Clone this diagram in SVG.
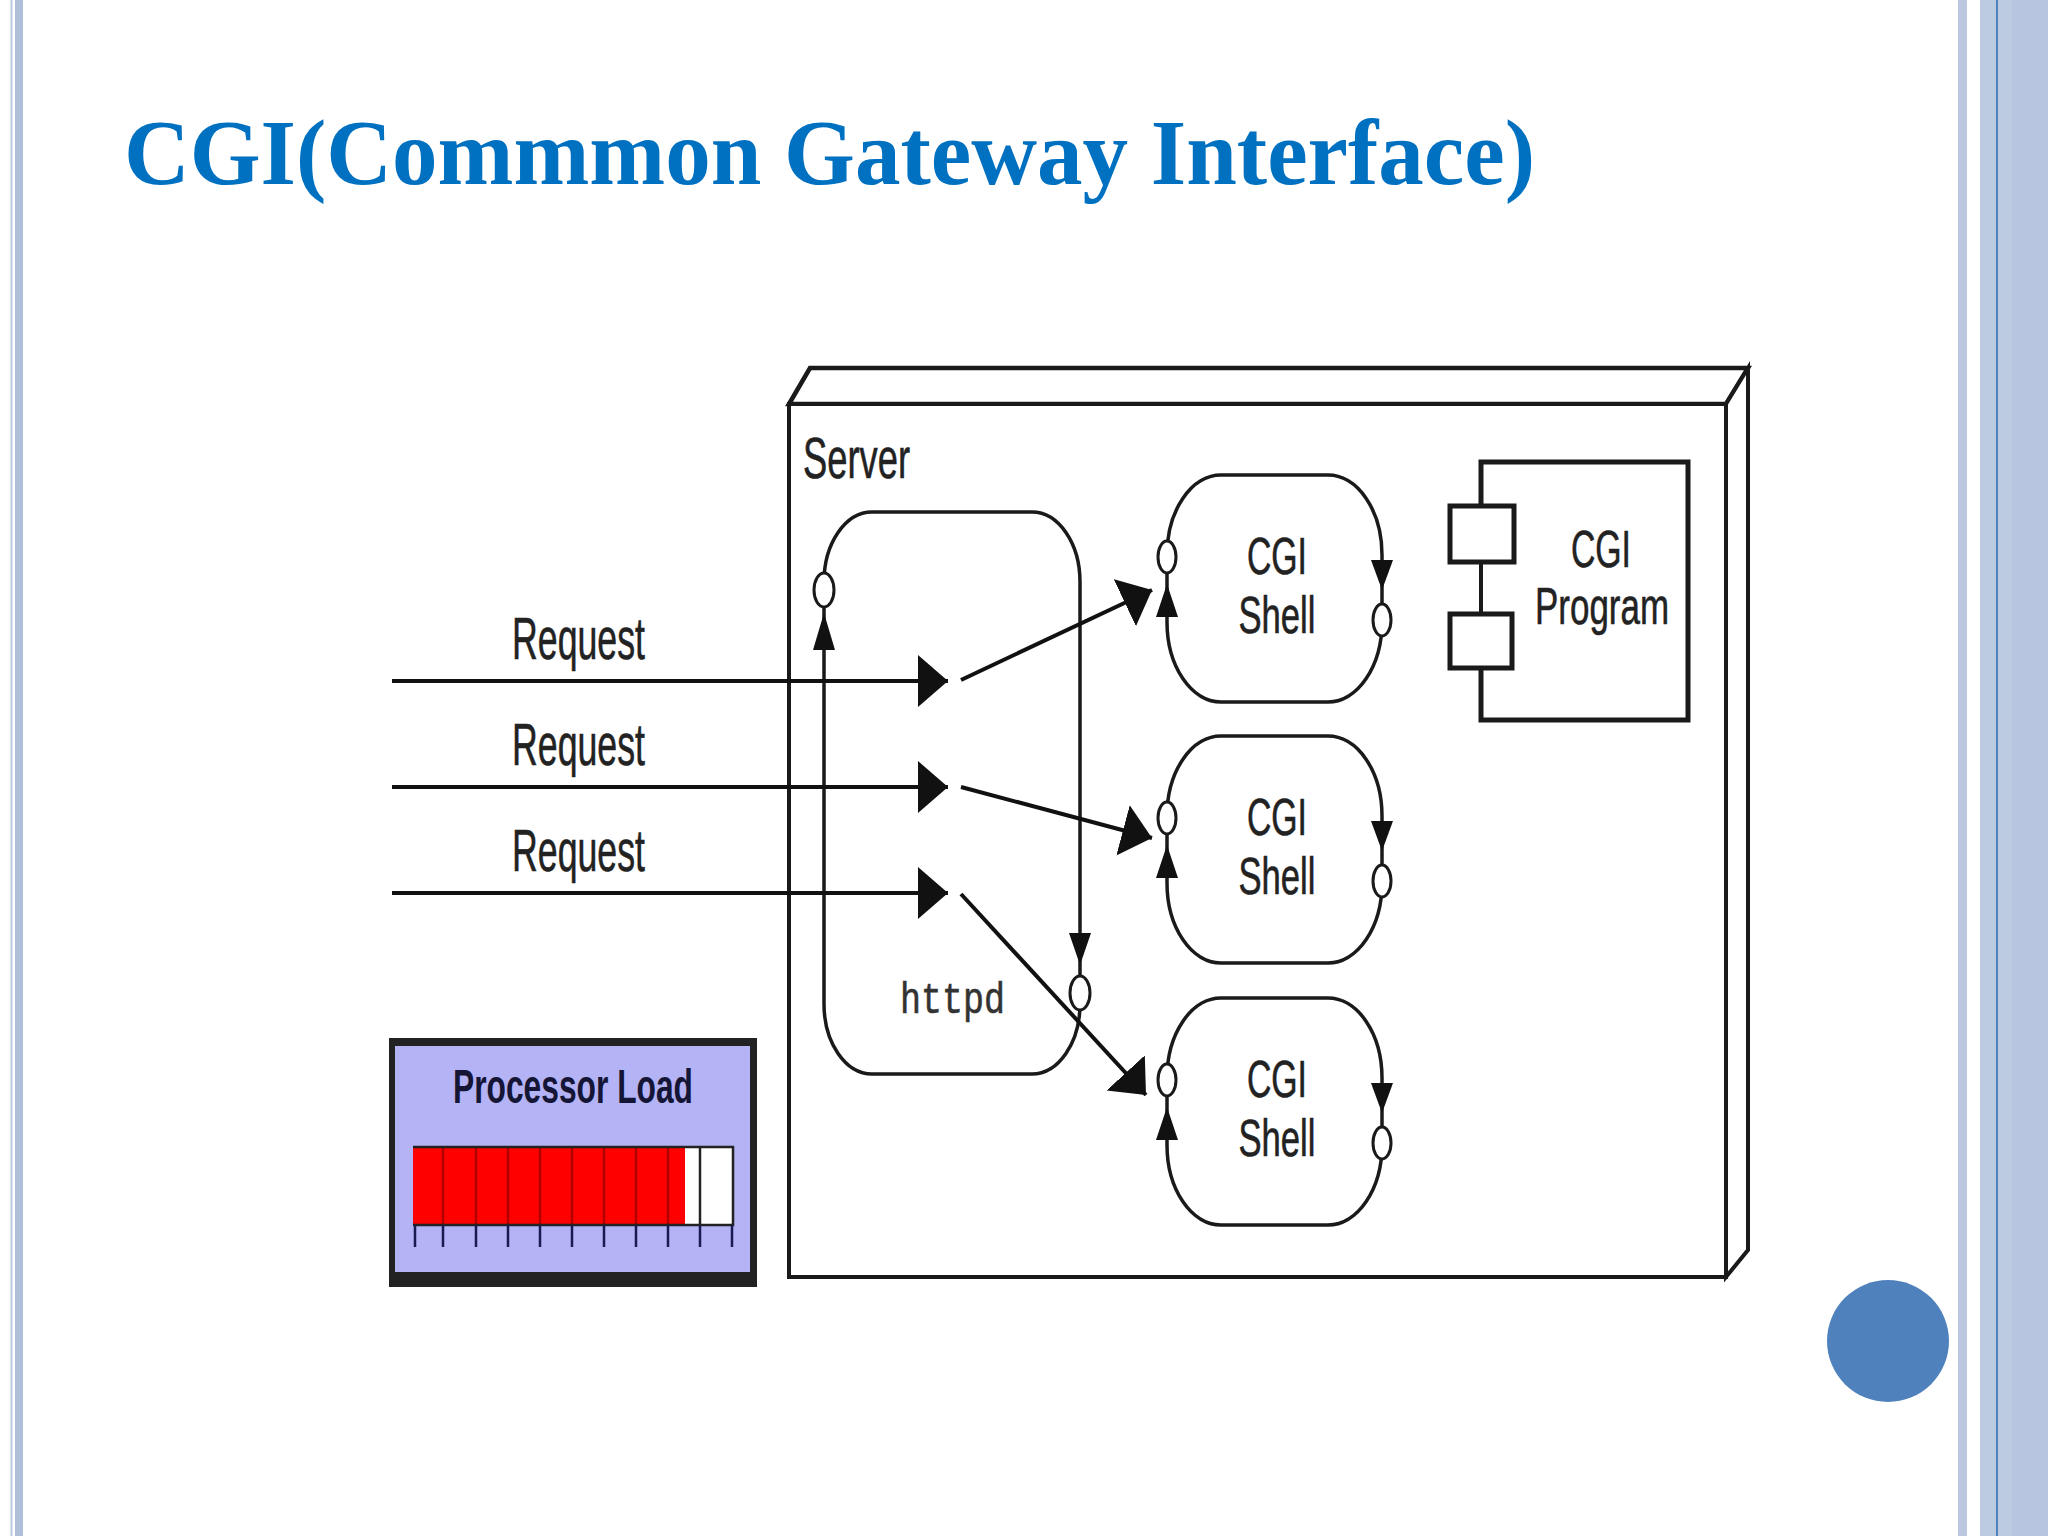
<svg xmlns="http://www.w3.org/2000/svg" width="2048" height="1536" viewBox="0 0 2048 1536">
<defs>
<style>
.lbl{font-family:"Liberation Sans",Arial,sans-serif;fill:#222;stroke:#222;stroke-width:0.6;}
.shape{fill:none;stroke:#1a1a1a;stroke-width:3.5;}
.port{fill:#fff;stroke:#1a1a1a;stroke-width:3;}
.tri{fill:#111;}
.conn{stroke:#111;stroke-width:4;fill:none;}
.tick{stroke:#1a1a50;stroke-width:2.5;}
.seg{stroke:#b00000;stroke-width:2.5;}
</style>
<marker id="big" markerUnits="userSpaceOnUse" markerWidth="32" markerHeight="54" refX="30" refY="26" orient="auto">
<path d="M0,0 L30,26 L0,52 Z" fill="#111"/>
</marker>
</defs>
<rect x="0" y="0" width="2048" height="1536" fill="#fff"/>
<!-- slide borders -->
<rect x="10.5" y="0" width="2" height="1536" fill="#B8C8E0"/>
<rect x="15" y="0" width="8" height="1536" fill="#AFBFD9"/>
<rect x="1958" y="0" width="9" height="1536" fill="#BCC8DF"/>
<rect x="1980" y="0" width="68" height="1536" fill="#BCCBDF"/>
<rect x="1996" y="0" width="2" height="1536" fill="#4F81BD"/>
<rect x="2012" y="0" width="36" height="1536" fill="#B7C5E0"/>
<circle cx="1888" cy="1341" r="61" fill="#4F81BD"/>
<text x="124" y="184" font-family="'Liberation Serif','Times New Roman',serif" font-weight="bold" font-size="94" fill="#0070C0" textLength="1411" lengthAdjust="spacingAndGlyphs">CGI(Commmon Gateway Interface)</text>

<g id="server">
<polygon points="789,404 810,368 1748,368 1726,404" fill="#fff" stroke="#1a1a1a" stroke-width="4.5" stroke-linejoin="miter"/>
<polygon points="1726,404 1748,368 1748,1250 1726,1277" fill="#fff" stroke="#1a1a1a" stroke-width="4"/>
<rect x="789" y="404" width="937" height="873" fill="#fff" stroke="#1a1a1a" stroke-width="4"/>
<text class="lbl" x="803" y="478" font-size="58" textLength="107" lengthAdjust="spacingAndGlyphs">Server</text>
</g>

<g id="httpd">
<rect class="shape" x="824" y="512" width="256" height="562" rx="48" ry="70"/>
<text x="900" y="1013" font-family="'Liberation Mono','Courier New',monospace" font-size="44" fill="#333" stroke="#333" stroke-width="0.6" textLength="105" lengthAdjust="spacingAndGlyphs">httpd</text>
<ellipse class="port" cx="824" cy="590" rx="10" ry="17"/>
<polygon class="tri" points="824,613 813,650 835,650"/>
<polygon class="tri" points="1069,933 1091,933 1080,965"/>
<ellipse class="port" cx="1080" cy="993" rx="10" ry="17"/>
</g>

<g id="shell1">
<rect class="shape" x="1167" y="475" width="215" height="227" rx="54" ry="80"/>
<ellipse class="port" cx="1167" cy="557" rx="9" ry="16"/>
<polygon class="tri" points="1167,584 1156,617 1178,617"/>
<polygon class="tri" points="1371,560 1393,560 1382,590"/>
<ellipse class="port" cx="1382" cy="620" rx="9" ry="16"/>
<text class="lbl" x="1277" y="574" font-size="52" text-anchor="middle" textLength="60" lengthAdjust="spacingAndGlyphs">CGI</text>
<text class="lbl" x="1277" y="633" font-size="52" text-anchor="middle" textLength="77" lengthAdjust="spacingAndGlyphs">Shell</text>
</g>

<g id="shell2">
<rect class="shape" x="1167" y="736" width="215" height="227" rx="54" ry="80"/>
<ellipse class="port" cx="1167" cy="818" rx="9" ry="16"/>
<polygon class="tri" points="1167,845 1156,878 1178,878"/>
<polygon class="tri" points="1371,821 1393,821 1382,851"/>
<ellipse class="port" cx="1382" cy="881" rx="9" ry="16"/>
<text class="lbl" x="1277" y="835" font-size="52" text-anchor="middle" textLength="60" lengthAdjust="spacingAndGlyphs">CGI</text>
<text class="lbl" x="1277" y="894" font-size="52" text-anchor="middle" textLength="77" lengthAdjust="spacingAndGlyphs">Shell</text>
</g>

<g id="shell3">
<rect class="shape" x="1167" y="998" width="215" height="227" rx="54" ry="80"/>
<ellipse class="port" cx="1167" cy="1080" rx="9" ry="16"/>
<polygon class="tri" points="1167,1107 1156,1140 1178,1140"/>
<polygon class="tri" points="1371,1083 1393,1083 1382,1113"/>
<ellipse class="port" cx="1382" cy="1143" rx="9" ry="16"/>
<text class="lbl" x="1277" y="1097" font-size="52" text-anchor="middle" textLength="60" lengthAdjust="spacingAndGlyphs">CGI</text>
<text class="lbl" x="1277" y="1156" font-size="52" text-anchor="middle" textLength="77" lengthAdjust="spacingAndGlyphs">Shell</text>
</g>

<g id="cgiprogram">
<polyline points="1481,505 1481,462 1688,462 1688,720 1481,720 1481,668" fill="none" stroke="#1a1a1a" stroke-width="5"/>
<line x1="1481" y1="562" x2="1481" y2="613" stroke="#1a1a1a" stroke-width="4"/>
<rect x="1450" y="506" width="64" height="56" fill="#fff" stroke="#1a1a1a" stroke-width="5"/>
<rect x="1450" y="614" width="62" height="54" fill="#fff" stroke="#1a1a1a" stroke-width="5"/>
<text class="lbl" x="1601" y="567" font-size="52" text-anchor="middle" textLength="60" lengthAdjust="spacingAndGlyphs">CGI</text>
<text class="lbl" x="1602" y="624" font-size="52" text-anchor="middle" textLength="134" lengthAdjust="spacingAndGlyphs">Program</text>
</g>

<g id="processorload">
<rect x="389" y="1038" width="368" height="249" fill="#222"/>
<rect x="395" y="1046" width="355" height="226" fill="#B3B3F5"/>
<text x="573" y="1103" font-family="'Liberation Sans',Arial,sans-serif" font-weight="bold" font-size="48" fill="#151535" text-anchor="middle" textLength="240" lengthAdjust="spacingAndGlyphs">Processor Load</text>
<rect x="413" y="1147" width="272" height="78" fill="#FF0000"/>
<rect x="685" y="1147" width="48" height="78" fill="#fff"/>
<g class="seg">
<line x1="443" y1="1148" x2="443" y2="1224"/><line x1="476" y1="1148" x2="476" y2="1224"/><line x1="508" y1="1148" x2="508" y2="1224"/><line x1="540" y1="1148" x2="540" y2="1224"/><line x1="572" y1="1148" x2="572" y2="1224"/><line x1="604" y1="1148" x2="604" y2="1224"/><line x1="636" y1="1148" x2="636" y2="1224"/><line x1="668" y1="1148" x2="668" y2="1224"/>
</g>
<line x1="700" y1="1147" x2="700" y2="1225" stroke="#222" stroke-width="2.5"/>
<polyline points="413,1147 733,1147 733,1225 413,1225" fill="none" stroke="#222" stroke-width="2.5"/>
<g class="tick">
<line x1="415" y1="1225" x2="415" y2="1247"/><line x1="443" y1="1225" x2="443" y2="1247"/><line x1="476" y1="1225" x2="476" y2="1247"/><line x1="508" y1="1225" x2="508" y2="1247"/><line x1="540" y1="1225" x2="540" y2="1247"/><line x1="572" y1="1225" x2="572" y2="1247"/><line x1="604" y1="1225" x2="604" y2="1247"/><line x1="636" y1="1225" x2="636" y2="1247"/><line x1="668" y1="1225" x2="668" y2="1247"/><line x1="700" y1="1225" x2="700" y2="1247"/><line x1="732" y1="1225" x2="732" y2="1247"/>
</g>
</g>

<g id="connectors">
<line class="conn" x1="392" y1="681" x2="948" y2="681" marker-end="url(#big)"/>
<line class="conn" x1="392" y1="787" x2="948" y2="787" marker-end="url(#big)"/>
<line class="conn" x1="392" y1="893" x2="948" y2="893" marker-end="url(#big)"/>
<text class="lbl" x="512" y="659" font-size="60" textLength="133" lengthAdjust="spacingAndGlyphs">Request</text>
<text class="lbl" x="512" y="765" font-size="60" textLength="133" lengthAdjust="spacingAndGlyphs">Request</text>
<text class="lbl" x="512" y="871" font-size="60" textLength="133" lengthAdjust="spacingAndGlyphs">Request</text>
<line class="conn" x1="961" y1="680" x2="1152" y2="590" marker-end="url(#big)"/>
<line class="conn" x1="961" y1="787" x2="1152" y2="838" marker-end="url(#big)"/>
<line class="conn" x1="961" y1="894" x2="1146" y2="1095" marker-end="url(#big)"/>
</g>
</svg>
